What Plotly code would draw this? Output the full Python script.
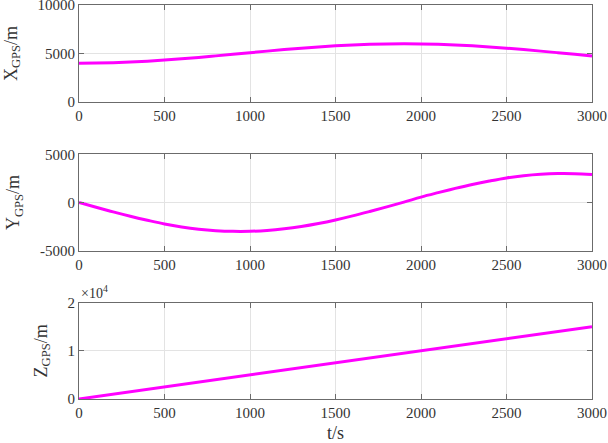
import plotly.graph_objects as go
from plotly.subplots import make_subplots

t = list(range(0, 3001, 100))
x_gps = [4000, 4014, 4054, 4121, 4211, 4323, 4453, 4598, 4755, 4917, 5083,
         5245, 5402, 5547, 5677, 5789, 5879, 5946, 5986, 6000, 5986,
         5946, 5879, 5789, 5677, 5547, 5402, 5245, 5083, 4917, 4740]
y_gps = [0, -494, -974, -1428, -1843, -2230, -2540, -2770, -2920, -2995, -2990,
         -2900, -2730, -2490, -2180, -1810, -1390, -930, -450, 40, 560,
         1020, 1460, 1870, 2230, 2550, 2780, 2930, 3000, 2990, 2910]
t_z = [0, 500, 1000, 1500, 2000, 2500, 3000]
z_gps = [0, 2500, 5000, 7500, 10000, 12500, 15000]

FONT = "'Liberation Serif', 'Times New Roman', 'DejaVu Serif', serif"
MAG = "#FF00FF"

fig = make_subplots(rows=3, cols=1)
fig.add_trace(go.Scatter(x=t, y=x_gps, mode="lines", line=dict(color=MAG, width=3, shape="spline")), 1, 1)
fig.add_trace(go.Scatter(x=t, y=y_gps, mode="lines", line=dict(color=MAG, width=3, shape="spline")), 2, 1)
fig.add_trace(go.Scatter(x=t_z, y=z_gps, mode="lines", line=dict(color=MAG, width=3)), 3, 1)

domains = [[0.7538, 1.0], [0.3764, 0.6211], [0.0, 0.2444]]
axis_common = dict(showline=True, linecolor="#6b6b6b", linewidth=1, mirror="ticks",
                   ticks="inside", ticklen=5, tickcolor="#6b6b6b", automargin=False,
                   ticklabeloverflow="allow",
                   showgrid=True, gridcolor="#e3e3e3", gridwidth=1, zeroline=False,
                   tickfont=dict(family=FONT, size=15, color="#333"))
yranges = [[0, 10000], [-5000, 5000], [0, 20000]]
ytickvals = [[0, 5000, 10000], [-5000, 0, 5000], [0, 10000, 20000]]
yticktext = [["0", "5000", "10000"], ["-5000", "0", "5000"], ["0", "1", "2"]]
ytitles = ["X<sub>GPS</sub>/m", "Y<sub>GPS</sub>/m", "Z<sub>GPS</sub>/m"]
for i in range(3):
    r = i + 1
    fig.update_xaxes(row=r, col=1, range=[0, 3000], tickvals=[0, 500, 1000, 1500, 2000, 2500, 3000],
                     ticktext=["0", "500", "1000", "1500", "2000", "2500", "3000"], **axis_common)
    fig.update_yaxes(row=r, col=1, range=yranges[i], domain=domains[i], tickvals=ytickvals[i],
                     ticktext=yticktext[i],
                     title=dict(text=ytitles[i], font=dict(family=FONT, size=18, color="#333")),
                     **axis_common)
fig.update_xaxes(row=3, col=1, title=dict(text="t/s", font=dict(family=FONT, size=18, color="#333")))

fig.add_annotation(text="×10<sup>4</sup>", xref="paper", yref="paper", x=0.0, y=0.2444,
                   xanchor="left", yanchor="bottom", showarrow=False,
                   font=dict(family=FONT, size=14, color="#333"))

fig.update_layout(width=608, height=443, margin=dict(l=79, r=16, t=5, b=44),
                  plot_bgcolor="white", paper_bgcolor="white", showlegend=False)
fig.write_html("out.html")
